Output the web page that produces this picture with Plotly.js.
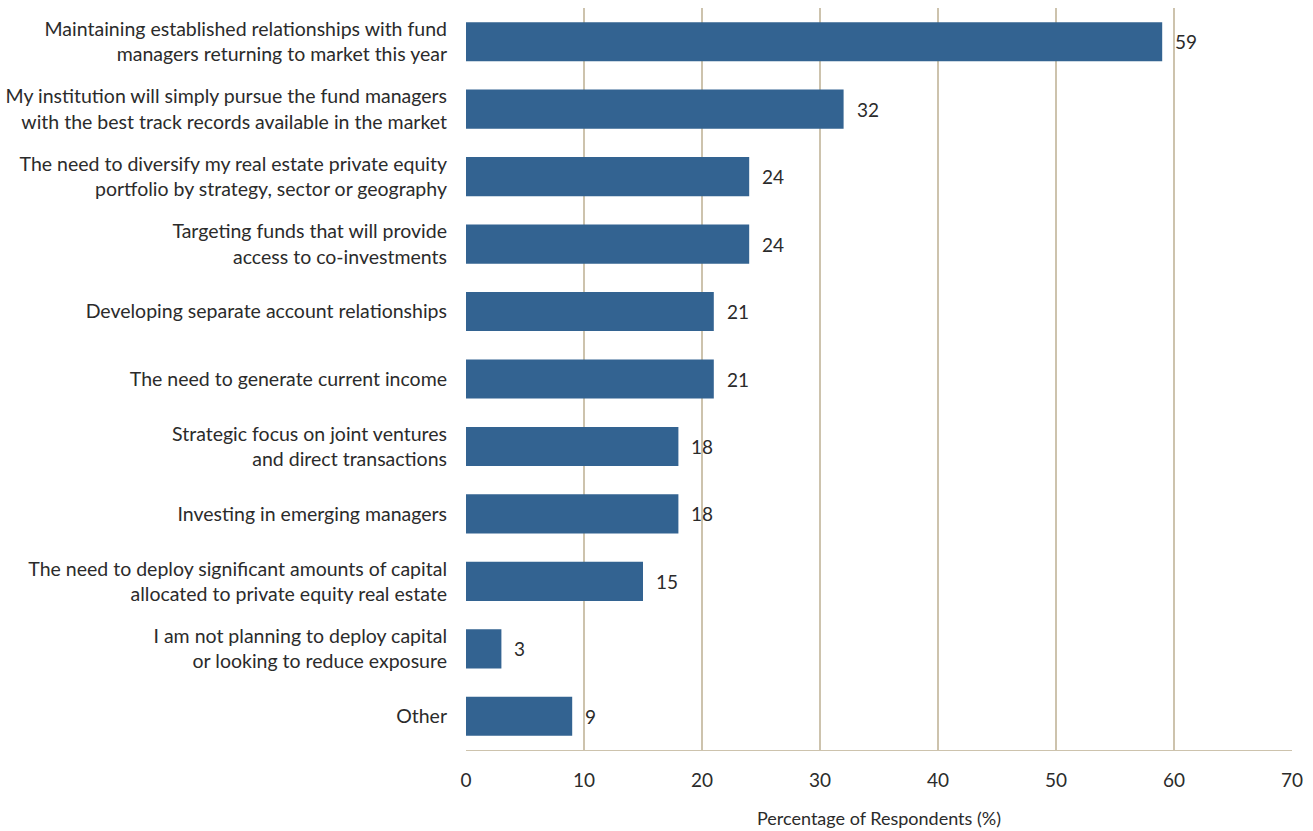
<!DOCTYPE html>
<html>
<head>
<meta charset="utf-8">
<script src="https://cdn.plot.ly/plotly-3.0.1.min.js"></script>
<style>html,body{margin:0;padding:0;background:#fff;}#chart{width:1313px;height:831px;}</style>
</head>
<body>
<div id="chart"></div>
<script>
const categories = [
  "Maintaining established relationships with fund<br>managers returning to market this year",
  "My institution will simply pursue the fund managers<br>with the best track records available in the market",
  "The need to diversify my real estate private equity<br>portfolio by strategy, sector or geography",
  "Targeting funds that will provide<br>access to co-investments",
  "Developing separate account relationships",
  "The need to generate current income",
  "Strategic focus on joint ventures<br>and direct transactions",
  "Investing in emerging managers",
  "The need to deploy significant amounts of capital<br>allocated to private equity real estate",
  "I am not planning to deploy capital<br>or looking to reduce exposure",
  "Other"
];
const values = [59, 32, 24, 24, 21, 21, 18, 18, 15, 3, 9];
const xTicks = [0, 10, 20, 30, 40, 50, 60, 70];

const fontFamily = "Lato, 'Noto Sans', sans-serif";
const textColor = "#2b2b2b";
const gridColor = "#cdc3ad";

const trace = {
  type: "bar",
  orientation: "h",
  x: values,
  y: categories,
  marker: {color: "#336391"},
  hoverinfo: "x+y"
};

const annotations = values.map((v, i) => ({
  x: v, y: categories[i], xref: "x", yref: "y",
  text: String(v), showarrow: false, xanchor: "left", xshift: 11,
  font: {family: fontFamily, size: 19, color: textColor}
}));

const layout = {
  width: 1313, height: 831,
  margin: {l: 466, r: 21, t: 8, b: 81},
  paper_bgcolor: "#ffffff", plot_bgcolor: "#ffffff",
  font: {family: fontFamily, size: 19, color: textColor},
  bargap: 0.42,
  showlegend: false,
  xaxis: {
    range: [0, 70], tickvals: xTicks, ticktext: xTicks.map(String),
    showgrid: true, gridcolor: gridColor, gridwidth: 1.3,
    zeroline: false, showline: true, linecolor: gridColor, linewidth: 1.3,
    ticks: "", ticklabelstandoff: 13,
    tickfont: {family: fontFamily, size: 19, color: textColor},
    title: {text: "Percentage of Respondents (%)", standoff: 22,
            font: {family: fontFamily, size: 18, color: textColor}},
    fixedrange: true
  },
  yaxis: {
    categoryorder: "array", categoryarray: categories,
    autorange: "reversed",
    showgrid: false, zeroline: false, showline: false,
    ticks: "", ticklabelstandoff: 18,
    tickfont: {family: fontFamily, size: 19.5, color: textColor},
    fixedrange: true
  },
  annotations: annotations
};

Plotly.newPlot("chart", [trace], layout, {displayModeBar: false, staticPlot: true});
</script>
</body>
</html>
